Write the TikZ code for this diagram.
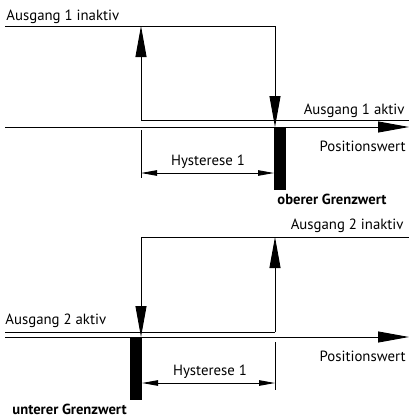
\documentclass[tikz,border=0pt]{standalone}
\usepackage{fontspec}
\setmainfont{PT Sans}
\usetikzlibrary{arrows.meta,positioning}

\begin{document}
\begin{tikzpicture}[x=1pt,y=-1pt,line width=0.9pt,
    bigarrow/.style={-{Triangle[length=31pt,width=11pt]}},
    dimarrow/.style={{Triangle[length=16pt,width=5.5pt]}-{Triangle[length=16pt,width=5.5pt]}},
    label/.style={inner sep=0pt,font=\fontsize{14.8}{16}\selectfont},
    boldlabel/.style={label,font=\fontsize{14.6}{16}\selectfont\bfseries},
    bar/.style={fill=black,inner sep=0pt,minimum width=12pt,minimum height=63pt,anchor=north}]
    \useasboundingbox (0,0) rectangle (409,418);

    % Ausgang 1 (oberer Grenzwert)
    \coordinate (inaktivL1) at (5,26);
    \coordinate (inaktivR1) at (275,26);
    \coordinate (hoch1) at (141,26);
    \coordinate (aktivL1) at (141,120);
    \coordinate (aktivR1) at (409,120);
    \coordinate (achseL1) at (5,127);
    \coordinate (achseR1) at (409,127);
    \coordinate (schalt1) at (275,127);
    \coordinate (tickO1) at (141,130);
    \coordinate (tickU1) at (141,178);
    \coordinate (hystL1) at (141,173);
    \coordinate (hystR1) at (274,173);

    \draw (inaktivL1) -- (inaktivR1);
    \draw[bigarrow] (inaktivR1) -- (schalt1);
    \draw (aktivL1) -- (aktivR1);
    \draw[bigarrow] (aktivL1) -- (hoch1);
    \draw[bigarrow] (achseL1) -- (achseR1);
    \node[bar] (grenz1) at (279.5,127) {};
    \draw (tickO1) -- (tickU1);
    \draw[dimarrow] (hystL1) -- (hystR1);

    \node[label,anchor=base west] (txtInaktiv1) at (6,20) {Ausgang 1 inaktiv};
    \node[label,anchor=base east] (txtAktiv1) at (405,114) {Ausgang 1 aktiv};
    \node[label,anchor=base east] (txtPos1) at (406,151) {Positionswert};
    \node[label,anchor=base] (txtHyst1) at (208,165) {Hysterese 1};
    \node[boldlabel,anchor=base west] (txtGrenz1) at (277,204) {oberer Grenzwert};

    % Ausgang 2 (unterer Grenzwert)
    \coordinate (inaktivL2) at (141,237);
    \coordinate (inaktivR2) at (409,237);
    \coordinate (hoch2) at (275,237);
    \coordinate (aktivL2) at (5,332);
    \coordinate (aktivR2) at (275,332);
    \coordinate (achseL2) at (5,337);
    \coordinate (achseR2) at (409,337);
    \coordinate (schalt2) at (141,337);
    \coordinate (tickO2) at (275,342);
    \coordinate (tickU2) at (275,390);
    \coordinate (hystL2) at (142,383);
    \coordinate (hystR2) at (275,383);

    \draw (inaktivL2) -- (inaktivR2);
    \draw[bigarrow] (inaktivL2) -- (schalt2);
    \draw (aktivL2) -- (aktivR2);
    \draw[bigarrow] (aktivR2) -- (hoch2);
    \draw[bigarrow] (achseL2) -- (achseR2);
    \node[bar] (grenz2) at (135.5,337) {};
    \draw (tickO2) -- (tickU2);
    \draw[dimarrow] (hystL2) -- (hystR2);

    \node[label,anchor=base east] (txtInaktiv2) at (404,229) {Ausgang 2 inaktiv};
    \node[label,anchor=base west] (txtAktiv2) at (5,324) {Ausgang 2 aktiv};
    \node[label,anchor=base east] (txtPos2) at (406,361) {Positionswert};
    \node[label,anchor=base] (txtHyst2) at (210,375) {Hysterese 1};
    \node[boldlabel,anchor=base west] (txtGrenz2) at (12,414) {unterer Grenzwert};
\end{tikzpicture}
\end{document}
